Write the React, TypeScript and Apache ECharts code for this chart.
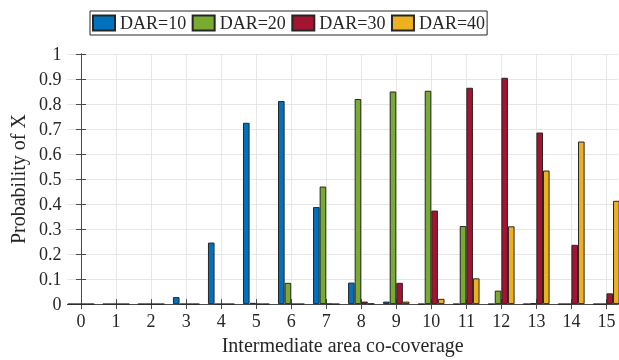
import React, { useEffect, useRef } from "react";
import * as echarts from "echarts";

const categories = [0, 1, 2, 3, 4, 5, 6, 7, 8, 9, 10, 11, 12, 13, 14, 15];
const dar10 = [0, 0, 0, 0.028, 0.246, 0.725, 0.812, 0.388, 0.086, 0.01, 0, 0, 0, 0, 0, 0];
const dar20 = [0, 0, 0, 0, 0, 0.005, 0.085, 0.47, 0.82, 0.85, 0.853, 0.312, 0.054, 0.003, 0, 0];
const dar30 = [0, 0, 0, 0, 0, 0, 0, 0.001, 0.01, 0.085, 0.374, 0.865, 0.905, 0.686, 0.237, 0.043];
const dar40 = [0, 0, 0, 0, 0, 0, 0, 0, 0.002, 0.01, 0.021, 0.103, 0.311, 0.534, 0.65, 0.413];
const seriesNames = ["DAR=10", "DAR=20", "DAR=30", "DAR=40"];
const colors = ["#0072BD", "#77AC30", "#A2142F", "#EDB120"];
const yTicks = [0, 0.1, 0.2, 0.3, 0.4, 0.5, 0.6, 0.7, 0.8, 0.9, 1];

const FONT = "'Liberation Serif', 'DejaVu Serif', serif";
const AXIS_COLOR = "#4a4a4a";
const TEXT_COLOR = "#262626";

export default function App() {
  const ref = useRef<HTMLDivElement>(null);
  useEffect(() => {
    if (!ref.current) return;
    const chart = echarts.init(ref.current, undefined, { renderer: "svg" });
    const allData = [dar10, dar20, dar30, dar40];
    const xMin = -0.39;
    const xMax = 15.33;
    chart.setOption({
      animation: false,
      textStyle: { fontFamily: FONT },
      grid: { left: 61, right: 1, top: 54, bottom: 50, containLabel: false },
      legend: {
        data: seriesNames,
        left: 90,
        top: 11,
        icon: "rect",
        itemWidth: 22,
        itemHeight: 15,
        itemGap: 5.5,
        padding: [3, 2, 3, 2],
        borderColor: "#262626",
        borderWidth: 1,
        backgroundColor: "#fff",
        textStyle: { fontFamily: FONT, fontSize: 18, color: TEXT_COLOR },
      },
      xAxis: [
        {
          type: "value",
          min: xMin,
          max: xMax,
          name: "Intermediate area co-coverage",
          nameLocation: "middle",
          nameGap: 30,
          nameTextStyle: { fontFamily: FONT, fontSize: 20, color: TEXT_COLOR },
          axisLine: { show: true, lineStyle: { color: AXIS_COLOR, width: 1 } },
          axisTick: { show: true, inside: true, length: 5, customValues: categories, lineStyle: { color: AXIS_COLOR } },
          axisLabel: {
            customValues: categories,
            fontFamily: FONT,
            fontSize: 18,
            color: TEXT_COLOR,
            margin: 8,
          },
          splitLine: { show: true, lineStyle: { color: "#e6e6e6", width: 1 } },
        },
        {
          type: "value",
          position: "top",
          min: xMin,
          max: xMax,
          axisLine: { show: true, lineStyle: { color: AXIS_COLOR, width: 1 } },
          axisTick: { show: true, inside: true, length: 5, customValues: categories, lineStyle: { color: AXIS_COLOR } },
          axisLabel: { show: false },
          splitLine: { show: false },
        },
      ],
      yAxis: [
        {
          type: "value",
          min: 0,
          max: 1,
          interval: 0.1,
          name: "Probability of X",
          nameLocation: "middle",
          nameGap: 31,
          nameTextStyle: { fontFamily: FONT, fontSize: 20, color: TEXT_COLOR },
          axisLine: { show: true, lineStyle: { color: AXIS_COLOR, width: 1 } },
          axisTick: { show: true, inside: true, length: 5, lineStyle: { color: AXIS_COLOR } },
          axisLabel: {
            fontFamily: FONT,
            fontSize: 18,
            color: TEXT_COLOR,
            margin: 6,
            formatter: (v: number) => {
              const t = yTicks.find((y) => Math.abs(y - v) < 1e-9);
              return String(t !== undefined ? t : v);
            },
          },
          splitLine: { show: true, lineStyle: { color: "#e6e6e6", width: 1 } },
        },
        {
          type: "value",
          position: "right",
          min: 0,
          max: 1,
          interval: 0.1,
          axisLine: { show: true, lineStyle: { color: AXIS_COLOR, width: 1 } },
          axisTick: { show: true, inside: true, length: 5, lineStyle: { color: AXIS_COLOR } },
          axisLabel: { show: false },
          splitLine: { show: false },
        },
      ],
      series: seriesNames.map((name, si) => ({
        name,
        type: "bar",
        xAxisIndex: 0,
        yAxisIndex: 0,
        barWidth: 6.6,
        barGap: "0%",
        data: categories.map((c, i) => [c, allData[si][i]]),
        itemStyle: { color: colors[si], borderColor: "#262626", borderWidth: 1 },
      })),
    });
    return () => chart.dispose();
  }, []);
  return <div ref={ref} style={{ width: 619, height: 360, position: "fixed", left: 0, top: 0 }} />;
}
